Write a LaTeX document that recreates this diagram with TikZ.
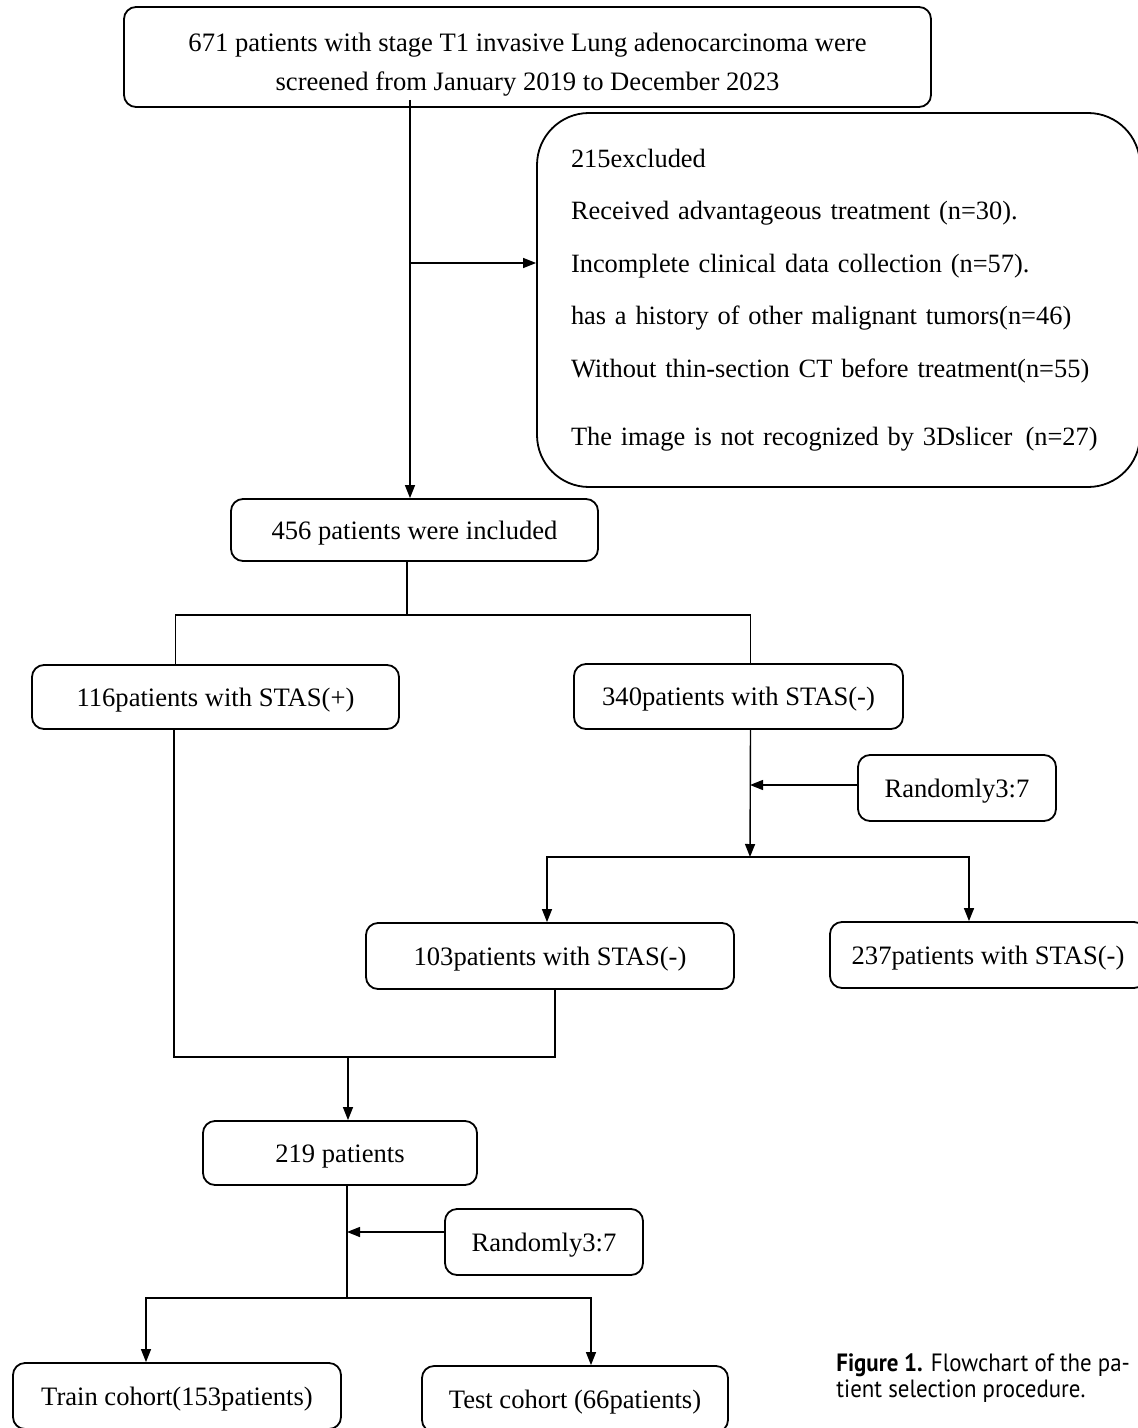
\documentclass[tikz,border=0pt]{standalone}
\usepackage{fontspec}
\usepackage{graphicx}
\setmainfont{Liberation Serif}
\newfontfamily\capfont{PT Sans}
\usetikzlibrary{arrows.meta,calc}
\begin{document}
\begin{tikzpicture}[x=0.5pt,y=-0.5pt,
  box/.style={draw, line width=0.9pt, rounded corners=6pt, inner sep=0pt, align=center,
    font=\fontsize{13.3}{19.5}\selectfont},
  onebox/.style={box, text height=11.8pt, text depth=2.6pt},
  arr/.style={-{Triangle[length=6.5pt,width=5pt]}, line width=0.7pt},
  ln/.style={line width=0.7pt}]
\useasboundingbox (0,0) rectangle (1138,1428);
\clip (0,0) rectangle (1138,1428);

% boxes
\node[box, minimum width=403.5pt, minimum height=50pt] (top) at (527.5,57)
  {\rule{0pt}{16.5pt}671 patients with stage T1 invasive Lung adenocarcinoma were\\screened from January 2019 to December 2023};
\node[box, rounded corners=26pt, minimum width=301.5pt, minimum height=187pt,
  text width=267.5pt, align=left, inner xsep=17pt,
  font=\fontsize{13.2}{15.8}\selectfont] (excl) at (838.5,300)
  {215excluded\\[10.45pt]
   Received advantageous treatment (n=30).\\[10.45pt]
   Incomplete clinical data collection (n=57).\\[10.45pt]
   has a history of other malignant tumors(n=46)\\[10.45pt]
   Without thin-section CT before treatment(n=55)\\[18.2pt]
   The image is not recognized by 3Dslicer\hspace{0.5em}(n=27)};
\node[onebox, minimum width=183.5pt, minimum height=31pt] (inc) at (414.5,530) {456 patients were included};
\node[onebox, minimum width=183.5pt, minimum height=32pt] (pos) at (215.5,697) {116patients with STAS(+)};
\node[onebox, minimum width=164.5pt, minimum height=32.5pt] (neg) at (738.5,696.5) {340patients with STAS(-)};
\node[onebox, minimum width=99pt, minimum height=33pt] (rand1) at (957,788) {Randomly3:7};
\node[onebox, minimum width=184pt, minimum height=33pt] (n103) at (550,956) {103patients with STAS(-)};
\node[onebox, minimum width=158pt, minimum height=33pt] (n237) at (988,955) {237patients with STAS(-)};
\node[onebox, minimum width=137pt, minimum height=32pt] (p219) at (340,1153) {219 patients};
\node[onebox, minimum width=99pt, minimum height=33pt] (rand2) at (544,1242) {Randomly3:7};
\node[onebox, minimum width=164pt, minimum height=33pt] (train) at (177,1396) {Train cohort(153patients)};
\node[onebox, minimum width=153pt, minimum height=33pt] (test) at (575,1399) {Test cohort (66patients)};

% caption
\node[anchor=north west, align=left, inner sep=0pt, font=\capfont\fontsize{12.5}{13}\selectfont] (cap) at (836,1353)
  {\scalebox{0.915}[1]{\textbf{Figure 1.} Flowchart of the pa-}\\\scalebox{0.915}[1]{tient selection procedure.}};

% junctions
\coordinate (j1) at (410,263);
\coordinate (j2) at (407,615);
\coordinate (j3) at (750,857);
\coordinate (j4) at (348,1057);
\coordinate (j5) at (347,1298);

% connectors
\draw[arr] ([yshift=4pt]top.south -| j1) -- (inc.north -| j1);
\draw[arr] (j1) -- (j1 -| excl.west);
\draw[ln] (inc.south -| j2) -- (j2);
\draw[ln] ([xshift=-20pt]pos.north) |- (j2) -| ([xshift=6pt]neg.north);
\draw[arr] ([xshift=6pt]neg.south) -- (j3);
\draw[arr] ([yshift=1.5pt]rand1.west) -- ([yshift=1.5pt]rand1.west -| j3);
\draw[arr] (j3) -| ([xshift=-1.5pt]n103.north);
\draw[arr] (j3) -| ([xshift=-9.5pt]n237.north);
\draw[ln] ([xshift=-20.75pt]pos.south) |- (j4) -| ([xshift=2.5pt]n103.south);
\draw[arr] (j4) -- (j4 |- p219.north);
\draw[ln] (p219.south -| j5) -- (j5);
\draw[arr] ([yshift=5pt]rand2.west) -- ([yshift=5pt]rand2.west -| j5);
\draw[arr] (j5) -| ([xshift=-15.5pt]train.north);
\draw[arr] (j5) -| ([xshift=8pt]test.north);
\end{tikzpicture}
\end{document}
